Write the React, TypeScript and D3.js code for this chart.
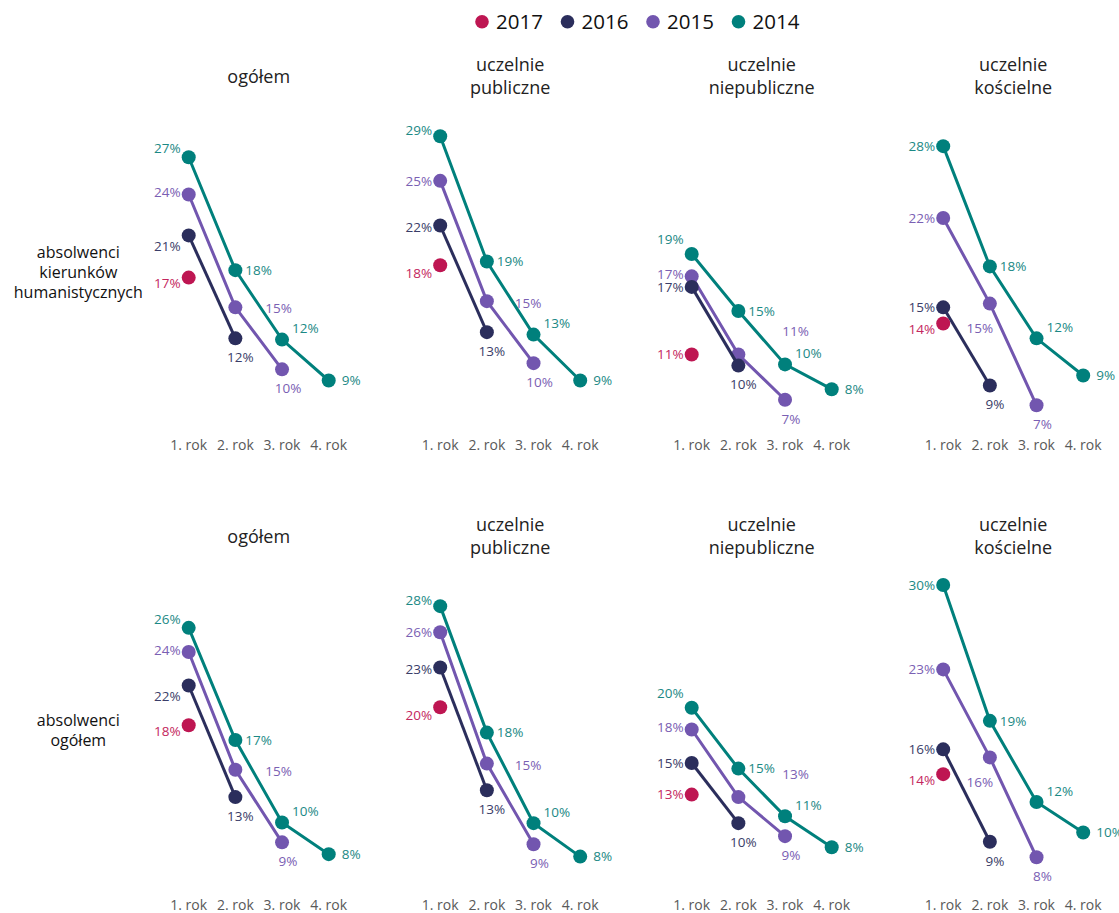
import React from 'react';
import * as d3 from 'd3';

// ---------- DATA ----------
const years = ['2017', '2016', '2015', '2014'];
const rokLabels = ['1. rok', '2. rok', '3. rok', '4. rok'];
const panelTitles = [['ogółem'], ['uczelnie', 'publiczne'], ['uczelnie', 'niepubliczne'], ['uczelnie', 'kościelne']];
const rowTitles = [['absolwenci', 'kierunków', 'humanistycznych'], ['absolwenci', 'ogółem']];

// row 1: absolwenci kierunków humanistycznych (columns: ogółem, publiczne, niepubliczne, kościelne)
const human2014 = [[27.0, 17.9, 12.3, 9.0], [28.7, 18.6, 12.7, 9.0], [19.2, 14.6, 10.3, 8.3], [27.9, 18.2, 12.4, 9.4]];
const human2015 = [[24.0, 14.9, 9.9], [25.1, 15.4, 10.4], [17.4, 11.1, 7.45], [22.1, 15.2, 7.0]];
const human2016 = [[20.7, 12.4], [21.5, 12.9], [16.55, 10.2], [14.9, 8.6]];
const human2017 = [[17.3], [18.3], [11.1], [13.6]];

// row 2: absolwenci ogółem
const total2014 = [[26.15, 17.1, 10.45, 7.9], [27.9, 17.7, 10.4, 7.7], [19.7, 14.8, 10.95, 8.45], [29.6, 18.65, 12.1, 9.65]];
const total2015 = [[24.2, 14.7, 8.85], [25.8, 15.2, 8.7], [17.95, 12.5, 9.35], [22.8, 15.7, 7.65]];
const total2016 = [[21.5, 12.5], [22.95, 13.05], [15.25, 10.4], [16.35, 8.9]];
const total2017 = [[18.3], [19.75], [12.7], [14.35]];

const rows = [
  { '2014': human2014, '2015': human2015, '2016': human2016, '2017': human2017 },
  { '2014': total2014, '2015': total2015, '2016': total2016, '2017': total2017 },
];

// ---------- STYLE / LAYOUT ----------
const colors: Record<string, string> = {
  '2017': '#BE1652',
  '2016': '#2B2E5C',
  '2015': '#7256AF',
  '2014': '#00807C',
};
const labelColors: Record<string, string> = {
  '2017': '#C4275E',
  '2016': '#3A3D68',
  '2015': '#7A60B3',
  '2014': '#1B8985',
};
const FONT = '"Open Sans", sans-serif';
const W = 1119;
const H = 913;
const colStart = 188.7;
const colStep = 251.5;
const rokSpan = 140;
const rowOffset = 460;
const yTop0 = 492.1;
const pxPerPct = 12.4;

// label nudges for the first-year label (per column)
const firstLabelDy: Record<string, number[]> = {
  '2014': [-9, -6, -15, 0],
  '2015': [-2, 0, -2, 0],
  '2016': [11, 2, 0, 0],
  '2017': [6, 8, 0, 6],
};
const label2015Second: [number, number, string][] = [
  [30, 1, 'start'], [28, 2, 'start'], [44, -23, 'start'], [-10, 25, 'middle'],
];

function labelPlacement(year: string, i: number, col: number): [number, number, string] {
  if (i === 0) return [-8, firstLabelDy[year][col], 'end'];
  if (year === '2014') {
    if (i === 1) return [10, 0, 'start'];
    if (i === 2) return [10, -11, 'start'];
    return [13, 0, 'start'];
  }
  if (year === '2015') {
    if (i === 1) return label2015Second[col];
    return [6, 19, 'middle'];
  }
  return [5, 19, 'middle'];
}

const drawOrder = ['2014', '2015', '2016', '2017'];

export default function App() {
  const line = d3.line<[number, number]>().x(d => d[0]).y(d => d[1]);
  const legendX = d3.scalePoint<string>().domain(years).range([482, 738.5]);

  const panels: React.ReactNode[] = [];
  rows.forEach((rowData, r) => {
    const y = d3.scaleLinear().domain([0, 30]).range([yTop0 + r * rowOffset, yTop0 + r * rowOffset - 30 * pxPerPct]);
    for (let c = 0; c < 4; c++) {
      const x0 = colStart + c * colStep;
      const x = d3.scalePoint<string>().domain(rokLabels).range([x0, x0 + rokSpan]);
      const title = panelTitles[c];
      const titleCenterY = 77.5 + r * rowOffset;
      const titleLineH = 23;
      panels.push(
        <g key={`p${r}-${c}`}>
          {title.map((t, k) => (
            <text key={k} x={x0 + rokSpan / 2} y={titleCenterY + (k - (title.length - 1) / 2) * titleLineH + 5}
              textAnchor="middle" fontFamily={FONT} fontSize={18} fill="#222">{t}</text>
          ))}
          {rokLabels.map(l => (
            <text key={l} x={x(l)} y={450 + r * rowOffset} textAnchor="middle" fontFamily={FONT} fontSize={14} fill="#595959">{l}</text>
          ))}
          {drawOrder.map(yr => {
            const vals: number[] = (rowData as any)[yr][c];
            const pts: [number, number][] = vals.map((v, i) => [x(rokLabels[i]) as number, y(v)]);
            return (
              <g key={yr}>
                {pts.length > 1 && <path d={line(pts) || ''} fill="none" stroke={colors[yr]} strokeWidth={3} />}
                {pts.map((p, i) => <circle key={i} cx={p[0]} cy={p[1]} r={7} fill={colors[yr]} />)}
              </g>
            );
          })}
          {drawOrder.map(yr => {
            const vals: number[] = (rowData as any)[yr][c];
            return vals.map((v, i) => {
              const [dx, dy, anchor] = labelPlacement(yr, i, c);
              const px = x(rokLabels[i]) as number;
              return (
                <text key={`${yr}-${i}`} x={px + dx} y={y(v) + dy + 4.8} textAnchor={anchor as any}
                  fontFamily={FONT} fontSize={13.5} fill={labelColors[yr]}>{`${Math.round(v)}%`}</text>
              );
            });
          })}
        </g>
      );
    }
  });

  const rowTitleCenters = [274, 732];
  const rowTitleLineH = [20, 20];

  return (
    <svg width={W} height={H} style={{ position: 'absolute', left: 0, top: 0, background: '#fff' }}>
      <rect width={W} height={H} fill="#fff" />
      {years.map(yr => (
        <g key={yr}>
          <circle cx={legendX(yr)} cy={21.7} r={6.8} fill={colors[yr]} />
          <text x={(legendX(yr) as number) + 14} y={29} fontFamily={FONT} fontSize={20.5} fill="#111">{yr}</text>
        </g>
      ))}
      {rowTitles.map((lines, r) => (
        <g key={r}>
          {lines.map((t, k) => (
            <text key={k} x={78.3} y={rowTitleCenters[r] + (k - (lines.length - 1) / 2) * rowTitleLineH[r] + 4.3}
              textAnchor="middle" fontFamily={FONT} fontSize={16} fill="#111">{t}</text>
          ))}
        </g>
      ))}
      {panels}
    </svg>
  );
}
